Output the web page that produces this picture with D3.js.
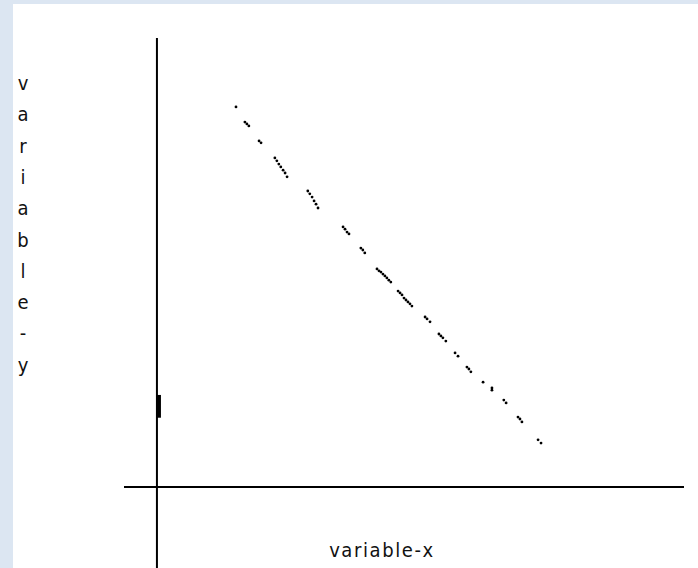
<!DOCTYPE html>
<html>
<head>
<meta charset="utf-8">
<script src="https://cdn.jsdelivr.net/npm/d3@7"></script>
<style>
  html, body { margin: 0; padding: 0; background: #dce6f2; }
  svg { display: block; }
</style>
</head>
<body>
<svg id="chart" width="698" height="568"></svg>
<script>
// ---- data ----
const xLabel = "variable-x";
const yLabel = "variable-y";
const xValues = [2.40, 2.67, 2.73, 2.79, 3.10, 3.16, 3.58, 3.64, 3.70, 3.76, 3.83, 3.89, 3.95,
  4.58, 4.64, 4.71, 4.77, 4.83, 4.89, 5.65, 5.71, 5.77, 5.83, 6.19, 6.25, 6.31,
  6.68, 6.74, 6.80, 6.86, 6.92, 6.98, 7.04, 7.10, 7.32, 7.38, 7.44, 7.50, 7.56, 7.62, 7.68, 7.74,
  8.14, 8.20, 8.29, 8.56, 8.62, 8.68, 8.77, 9.05, 9.14, 9.41, 9.47, 9.53, 9.90, 10.17, 10.17,
  10.53, 10.60, 10.96, 11.02, 11.08, 11.57, 11.66];
const yValues = [11.85, 11.38, 11.32, 11.26, 10.79, 10.73, 10.26, 10.17, 10.07, 9.98, 9.88, 9.79, 9.67,
  9.23, 9.14, 9.04, 8.92, 8.82, 8.70, 8.11, 8.04, 7.95, 7.89, 7.45, 7.39, 7.30,
  6.80, 6.74, 6.70, 6.64, 6.58, 6.52, 6.45, 6.39, 6.11, 6.05, 5.99, 5.89, 5.83, 5.77, 5.71, 5.64,
  5.30, 5.24, 5.15, 4.77, 4.71, 4.65, 4.55, 4.18, 4.08, 3.74, 3.68, 3.59, 3.27, 3.09, 3.02,
  2.71, 2.62, 2.18, 2.12, 2.03, 1.47, 1.37];
const markerRange = [2.16, 2.87];
const xAxisExtent = [-1, 16];
const yAxisExtent = [-2.53, 14];

// ---- drawing ----
const svg = d3.select("#chart");
svg.append("rect").attr("x", 13).attr("y", 4).attr("width", 685).attr("height", 564).attr("fill", "#ffffff");

const x = d3.scaleLinear().domain([-1, 16]).range([124, 684]);
const y = d3.scaleLinear().domain([0, 14]).range([487, 38]);

// axes lines
svg.append("line")
  .attr("x1", x(xAxisExtent[0])).attr("x2", x(xAxisExtent[1]))
  .attr("y1", y(0)).attr("y2", y(0))
  .attr("stroke", "#000").attr("stroke-width", 2);
svg.append("line")
  .attr("x1", x(0)).attr("x2", x(0))
  .attr("y1", y(yAxisExtent[1])).attr("y2", y(yAxisExtent[0]))
  .attr("stroke", "#000").attr("stroke-width", 2);

// marker on y axis
svg.append("rect")
  .attr("x", x(0)).attr("width", 4)
  .attr("y", y(markerRange[1])).attr("height", y(markerRange[0]) - y(markerRange[1]))
  .attr("fill", "#000");

// points
const pts = xValues.map((v, i) => ({x: v, y: yValues[i]}));
svg.append("g").selectAll("circle").data(pts).join("circle")
  .attr("cx", d => x(d.x)).attr("cy", d => y(d.y))
  .attr("r", 1.4)
  .attr("fill", "#000");

// labels
const labelFont = "'DejaVu Sans Condensed', 'Liberation Sans Narrow', 'DejaVu Sans', sans-serif";
svg.append("text")
  .attr("x", 382).attr("y", 557)
  .attr("text-anchor", "middle")
  .attr("font-family", labelFont)
  .attr("font-size", 20)
  .attr("letter-spacing", 1.6)
  .attr("fill", "#111")
  .text(xLabel);

const yl = svg.append("text")
  .attr("font-family", labelFont)
  .attr("font-size", 20)
  .attr("fill", "#111");
yLabel.split("").forEach((c, i) => {
  yl.append("tspan").attr("x", 23).attr("y", 90 + i * 31.3)
    .attr("text-anchor", "middle").text(c);
});
</script>
</body>
</html>
